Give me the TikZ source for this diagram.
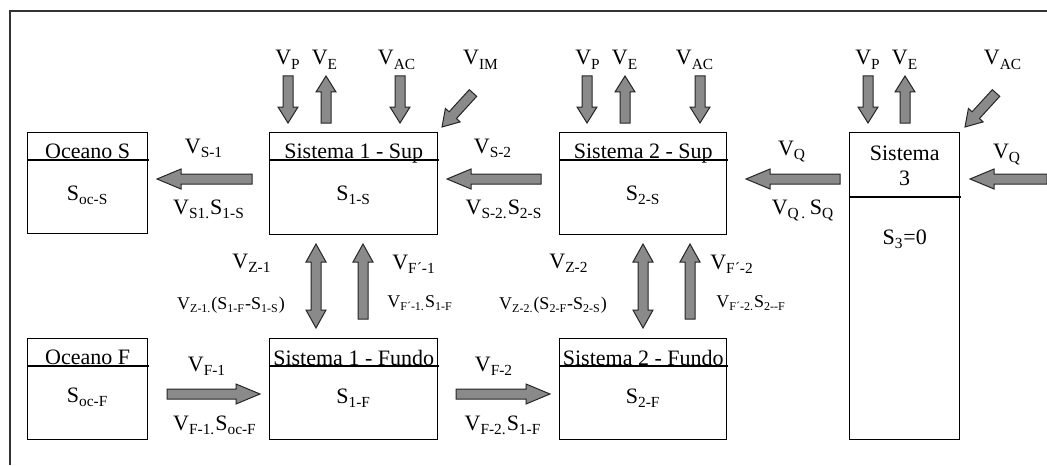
\documentclass[tikz,border=0pt]{standalone}
\usepackage{fontspec}
\setmainfont{Liberation Serif}
\usetikzlibrary{calc}

\definecolor{arrowgray}{RGB}{138,138,138}

\newcommand{\sbs}[1]{\raisebox{-0.15ex}{\textsubscript{#1}}}

% fat block arrow, #1 = head length
\newcommand{\fatarrow}[3][12pt]{%
  \coordinate (hb) at ($(#3)!#1!(#2)$);
  \filldraw[fat] ($(#2)!2.5pt!90:(#3)$) -- ($(hb)!2.5pt!90:(#3)$) -- ($(hb)!5pt!90:(#3)$)
    -- (#3) -- ($(hb)!5pt!-90:(#3)$) -- ($(hb)!2.5pt!-90:(#3)$) -- ($(#2)!2.5pt!-90:(#3)$) -- cycle;
}
\newcommand{\fatboth}[3][9pt]{%
  \coordinate (ha) at ($(#2)!#1!(#3)$);
  \coordinate (hb) at ($(#3)!#1!(#2)$);
  \filldraw[fat] (#2) -- ($(ha)!5pt!90:(#3)$) -- ($(ha)!2.5pt!90:(#3)$) -- ($(hb)!2.5pt!90:(#3)$)
    -- ($(hb)!5pt!90:(#3)$) -- (#3) -- ($(hb)!5pt!-90:(#3)$) -- ($(hb)!2.5pt!-90:(#3)$)
    -- ($(ha)!2.5pt!-90:(#3)$) -- ($(ha)!5pt!-90:(#3)$) -- cycle;
}

\tikzset{
  box/.style={draw, line width=0.7pt, inner sep=0pt, anchor=north west},
  boxline/.style={line width=0.7pt},
  txt/.style={anchor=base, inner sep=0pt},
  small/.style={anchor=base, inner sep=0pt, font=\fontsize{9}{11}\selectfont},
  fat/.style={fill=arrowgray, draw=black!85, line width=0.5pt, line join=miter},
}

\begin{document}
\begin{tikzpicture}[x=0.5pt, y=-0.5pt, font=\fontsize{11}{12.5}\selectfont]
    \useasboundingbox (0,0) rectangle (1047,465);
    \draw[line width=0.6pt, black!80] (10,465) -- (10,11) -- (1047,11);

    % boxes
    \node[box, minimum width=60pt, minimum height=50.5pt] (oceanS) at (27,132) {};
    \node[box, minimum width=84pt, minimum height=51pt] (sup1) at (269,132) {};
    \node[box, minimum width=83.5pt, minimum height=51pt] (sup2) at (559,132) {};
    \node[box, minimum width=55pt, minimum height=153.5pt] (sis3) at (849,132) {};
    \node[box, minimum width=60pt, minimum height=50.5pt] (oceanF) at (27,338) {};
    \node[box, minimum width=84pt, minimum height=50.5pt] (fundo1) at (269,338) {};
    \node[box, minimum width=83.5pt, minimum height=50.5pt] (fundo2) at (559,338) {};

    \draw[boxline] ($(oceanS.north west)+(0,28)$) -- ($(oceanS.north east)+(1,28)$);
    \draw[boxline] ($(sup1.north west)+(0,28)$) -- ($(sup1.north east)+(1,28)$);
    \draw[boxline] ($(sup2.north west)+(0,28)$) -- ($(sup2.north east)+(1,28)$);
    \draw[boxline] ($(sis3.north west)+(0,65)$) -- ($(sis3.north east)+(1,65)$);
    \draw[boxline] ($(oceanF.north west)+(0,28)$) -- ($(oceanF.north east)+(1,28)$);
    \draw[boxline] ($(fundo1.north west)+(0,28)$) -- ($(fundo1.north east)+(1,28)$);
    \draw[boxline] ($(fundo2.north west)+(0,28)$) -- ($(fundo2.north east)+(1,28)$);

    \node[txt] (tOceanS) at ($(oceanS.north)+(0,26)$) {Oceano S};
    \node[txt] (tSup1) at ($(sup1.north)+(0,26)$) {Sistema 1 - Sup};
    \node[txt] (tSup2) at ($(sup2.north)+(0,26)$) {Sistema 2 - Sup};
    \node[txt, align=center] (tSis3) at ($(sis3.north)+(0,53)$) {Sistema\\3};
    \node[txt] (tOceanF) at ($(oceanF.north)+(0,26)$) {Oceano F};
    \node[txt] (tFundo1) at ($(fundo1.north)+(0,27)$) {Sistema 1 - Fundo};
    \node[txt] (tFundo2) at ($(fundo2.north)+(0,27)$) {Sistema 2 - Fundo};

    \node[txt] (cOceanS) at ($(oceanS.north)+(0,68)$) {S\sbs{oc-S}};
    \node[txt] (cSup1) at ($(sup1.north)+(0,68)$) {S\sbs{1-S}};
    \node[txt] (cSup2) at ($(sup2.north)+(0,68)$) {S\sbs{2-S}};
    \node[txt] (cSis3) at ($(sis3.north)+(0,112)$) {S\sbs{3}=0};
    \node[txt] (cOceanF) at ($(oceanF.north)+(0,64)$) {S\sbs{oc-F}};
    \node[txt] (cFundo1) at ($(fundo1.north)+(0,65)$) {S\sbs{1-F}};
    \node[txt] (cFundo2) at ($(fundo2.north)+(0,65)$) {S\sbs{2-F}};

    % arrow ends
    \coordinate (s1a) at (252,179);  \coordinate (s1b) at (157,179);
    \coordinate (s2a) at (541,179);  \coordinate (s2b) at (447,179);
    \coordinate (qa) at (840,179);   \coordinate (qb) at (746,179);
    \coordinate (q3a) at (1047,179); \coordinate (q3b) at (970,179);
    \coordinate (f1a) at (167,394);  \coordinate (f1b) at (260,394);
    \coordinate (f2a) at (456,394);  \coordinate (f2b) at (550,394);

    \coordinate (p1a) at (288,76);  \coordinate (p1b) at (288,123);
    \coordinate (e1a) at (326,123); \coordinate (e1b) at (326,76);
    \coordinate (ac1a) at (400,76); \coordinate (ac1b) at (400,123);
    \coordinate (ima) at (473,93);  \coordinate (imb) at (442,127);
    \coordinate (p2a) at (587,76);  \coordinate (p2b) at (587,123);
    \coordinate (e2a) at (625,123); \coordinate (e2b) at (625,76);
    \coordinate (ac2a) at (700,76); \coordinate (ac2b) at (700,123);
    \coordinate (p3a) at (868,76);  \coordinate (p3b) at (868,123);
    \coordinate (e3a) at (905,123); \coordinate (e3b) at (905,76);
    \coordinate (ac3a) at (996,93); \coordinate (ac3b) at (965,127);

    \coordinate (z1a) at (316,244); \coordinate (z1b) at (316,328);
    \coordinate (fl1a) at (363,319); \coordinate (fl1b) at (363,244);
    \coordinate (z2a) at (643,244); \coordinate (z2b) at (643,328);
    \coordinate (fl2a) at (690,319); \coordinate (fl2b) at (690,244);

    \fatarrow{s1a}{s1b}
    \fatarrow{s2a}{s2b}
    \fatarrow{qa}{qb}
    \fatarrow{q3a}{q3b}
    \fatarrow{f1a}{f1b}
    \fatarrow{f2a}{f2b}

    \fatarrow[8pt]{p1a}{p1b}
    \fatarrow[8pt]{e1a}{e1b}
    \fatarrow[8pt]{ac1a}{ac1b}
    \fatarrow[8pt]{ima}{imb}
    \fatarrow[8pt]{p2a}{p2b}
    \fatarrow[8pt]{e2a}{e2b}
    \fatarrow[8pt]{ac2a}{ac2b}
    \fatarrow[8pt]{p3a}{p3b}
    \fatarrow[8pt]{e3a}{e3b}
    \fatarrow[8pt]{ac3a}{ac3b}

    \fatboth{z1a}{z1b}
    \fatarrow[9pt]{fl1a}{fl1b}
    \fatboth{z2a}{z2b}
    \fatarrow[9pt]{fl2a}{fl2b}

    % labels
    \node[txt] (lp1) at (288,65) {V\sbs{P}};
    \node[txt] (le1) at (325,65) {V\sbs{E}};
    \node[txt] (lac1) at (397,65) {V\sbs{AC}};
    \node[txt] (lim) at (481,65) {V\sbs{IM}};
    \node[txt] (lp2) at (588,65) {V\sbs{P}};
    \node[txt] (le2) at (625,65) {V\sbs{E}};
    \node[txt] (lac2) at (695,65) {V\sbs{AC}};
    \node[txt] (lp3) at (868,65) {V\sbs{P}};
    \node[txt] (le3) at (905,65) {V\sbs{E}};
    \node[txt] (lac3) at (1003,65) {V\sbs{AC}};

    \node[txt] (ls1) at (204,153) {V\sbs{S-1}};
    \node[txt] (ls1b) at (209,214) {V\sbs{S1.}S\sbs{1-S}};
    \node[txt] (ls2) at (493,153) {V\sbs{S-2}};
    \node[txt] (ls2b) at (504,214) {V\sbs{S-2.}S\sbs{2-S}};
    \node[txt] (lq) at (792,155) {V\sbs{Q}};
    \node[txt] (lqb) at (803,214) {V\sbs{Q\,.}\,S\sbs{Q}};
    \node[txt] (lq3) at (1007,158) {V\sbs{Q}};

    \node[txt] (lz1) at (252,268) {V\sbs{Z-1}};
    \node[small] (lz1b) at (231,309) {V\sbs{Z-1.}(S\sbs{1-F}-S\sbs{1-S})};
    \node[txt] (lfl1) at (414,269) {V\sbs{F´-1}};
    \node[small] (lfl1b) at (420,307) {V\sbs{F´-1.}S\sbs{1-F}};
    \node[txt] (lz2) at (569,268) {V\sbs{Z-2}};
    \node[small] (lz2b) at (553,309) {V\sbs{Z-2.}(S\sbs{2-F}-S\sbs{2-S})};
    \node[txt] (lfl2) at (732,269) {V\sbs{F´-2}};
    \node[small] (lfl2b) at (751,307) {V\sbs{F´-2.}S\sbs{2-{}-F}};

    \node[txt] (lf1) at (207,371) {V\sbs{F-1}};
    \node[txt] (lf1b) at (215,430) {V\sbs{F-1.}S\sbs{oc-F}};
    \node[txt] (lf2) at (494,371) {V\sbs{F-2}};
    \node[txt] (lf2b) at (503,430) {V\sbs{F-2.}S\sbs{1-F}};
\end{tikzpicture}
\end{document}
